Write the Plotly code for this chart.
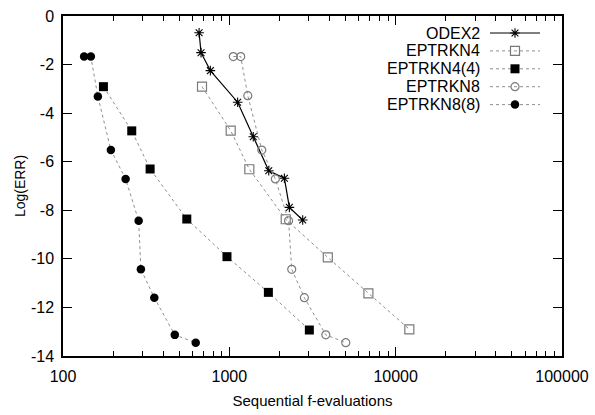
import plotly.graph_objects as go

# Sequential f-evaluations (x) and Log(ERR) (y) for each integrator
odex2_x = [658, 676, 769, 1122, 1393, 1726, 2143, 2296, 2761]
odex2_y = [-0.69, -1.51, -2.25, -3.55, -4.97, -6.37, -6.68, -7.88, -8.40]

eptrkn4_x = [685, 1019, 1319, 2183, 3908, 6855, 12080]
eptrkn4_y = [-2.91, -4.72, -6.31, -8.37, -9.94, -11.42, -12.90]

eptrkn44_x = [175, 259, 334, 555, 968, 1717, 3027]
eptrkn44_y = [-2.91, -4.73, -6.30, -8.36, -9.91, -11.38, -12.93]

eptrkn8_x = [1056, 1171, 1291, 1567, 1891, 2270, 2372, 2826, 3802, 5013]
eptrkn8_y = [-1.67, -1.67, -3.28, -5.52, -6.71, -8.43, -10.43, -11.60, -13.13, -13.45]

eptrkn88_x = [134, 147, 162, 194, 238, 285, 294, 354, 470, 628]
eptrkn88_y = [-1.67, -1.67, -3.31, -5.52, -6.71, -8.43, -10.43, -11.60, -13.13, -13.45]

x_ticks = [100, 1000, 10000, 100000]
x_tick_labels = ["100", "1000", "10000", "100000"]
y_ticks = [0, -2, -4, -6, -8, -10, -12, -14]
y_tick_labels = ["0", "-2", "-4", "-6", "-8", "-10", "-12", "-14"]

FONT = "Liberation Sans, Arial, sans-serif"
GRAY = "#8f8f8f"
W, H = 595, 415
ML, MR, MT, MB = 63, 33, 16, 59

series = [
    ("ODEX2", odex2_x, odex2_y,
     dict(color="black", width=1.2, dash="solid"),
     dict(symbol="asterisk-open", size=8, color="black",
          line=dict(color="black", width=1.1))),
    ("EPTRKN4", eptrkn4_x, eptrkn4_y,
     dict(color=GRAY, width=1, dash="dot"),
     dict(symbol="square-open", size=9, color="#7a7a7a",
          line=dict(color="#7a7a7a", width=1.2))),
    ("EPTRKN4(4)", eptrkn44_x, eptrkn44_y,
     dict(color=GRAY, width=1, dash="dot"),
     dict(symbol="square", size=9, color="black",
          line=dict(color="black", width=0))),
    ("EPTRKN8", eptrkn8_x, eptrkn8_y,
     dict(color=GRAY, width=1, dash="dot"),
     dict(symbol="circle-open", size=8, color="#7a7a7a",
          line=dict(color="#7a7a7a", width=1.2))),
    ("EPTRKN8(8)", eptrkn88_x, eptrkn88_y,
     dict(color=GRAY, width=1, dash="dot"),
     dict(symbol="circle", size=8.5, color="black",
          line=dict(color="black", width=0))),
]

fig = go.Figure()
for name, xs, ys, line, marker in series:
    fig.add_trace(go.Scatter(x=xs, y=ys, mode="lines+markers", name=name,
                             line=line, marker=marker, showlegend=False,
                             cliponaxis=False))

# Key in the gnuplot style: right-aligned label, then a sample line with marker
pw = W - ML - MR
ph = H - MT - MB
text_right = (482 - ML) / pw
line_x0 = (490 - ML) / pw
line_x1 = (540 - ML) / pw
mark_x = (515 - ML) / pw
row0 = 33
row_step = 17.9
for i, (name, xs, ys, line, marker) in enumerate(series):
    yk = 1 - (row0 + i * row_step - MT) / ph
    fig.add_annotation(xref="paper", yref="paper", x=text_right, y=yk,
                       text=name, showarrow=False, xanchor="right",
                       yanchor="middle", font=dict(family=FONT, size=16, color="black"))
    fig.add_trace(go.Scatter(x=[line_x0, mark_x, line_x1], y=[yk, yk, yk],
                             xaxis="x2", yaxis="y2", mode="lines",
                             line=line, showlegend=False, hoverinfo="skip"))
    fig.add_trace(go.Scatter(x=[mark_x], y=[yk], xaxis="x2", yaxis="y2",
                             mode="markers", marker=marker,
                             showlegend=False, hoverinfo="skip"))

minor_vals = [m * 10 ** d for d in range(2, 5) for m in range(2, 10)]

fig.update_layout(
    width=W, height=H,
    margin=dict(l=ML, r=MR, t=MT, b=MB, autoexpand=False),
    paper_bgcolor="white", plot_bgcolor="white",
    font=dict(family=FONT, size=16, color="black"),
    xaxis=dict(
        type="log", range=[2, 5], automargin=False,
        tickmode="array", tickvals=x_ticks, ticktext=x_tick_labels,
        ticks="inside", ticklen=9, tickwidth=1.2, tickcolor="black",
        minor=dict(tickmode="array", tickvals=minor_vals, ticks="inside",
                   ticklen=5, tickwidth=1.2, tickcolor="black"),
        showline=True, linecolor="black", linewidth=1.5, mirror="ticks",
        showgrid=False, zeroline=False,
        tickfont=dict(size=16), ticklabelstandoff=5,
        title=dict(text="Sequential f-evaluations", font=dict(size=15), standoff=12),
    ),
    yaxis=dict(
        range=[-14, 0], automargin=False,
        tickmode="array", tickvals=y_ticks, ticktext=y_tick_labels,
        ticks="inside", ticklen=9, tickwidth=1.2, tickcolor="black",
        showline=True, linecolor="black", linewidth=1.5, mirror="ticks",
        showgrid=False, zeroline=False,
        tickfont=dict(size=16), ticklabelstandoff=4,
        title=dict(text="Log(ERR)", font=dict(size=14), standoff=2),
    ),
    xaxis2=dict(overlaying="x", range=[0, 1], visible=False),
    yaxis2=dict(overlaying="y", range=[0, 1], visible=False),
)

fig.write_html("out.html")
